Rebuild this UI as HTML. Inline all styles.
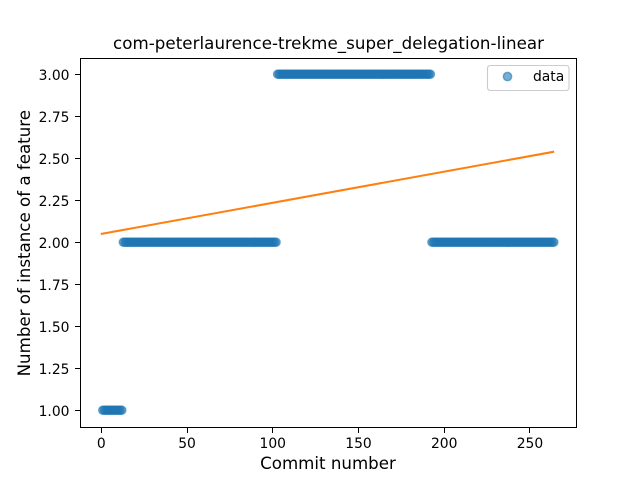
<!DOCTYPE html>
<html>
<head>
<meta charset="utf-8">
<title>com-peterlaurence-trekme_super_delegation-linear</title>
<style>
html,body{margin:0;padding:0;background:#fff;width:640px;height:480px;overflow:hidden}
svg{display:block}
text{font-family:"DejaVu Sans","Liberation Sans",sans-serif;fill:#000}
</style>
</head>
<body>
<svg id="chart" xmlns="http://www.w3.org/2000/svg" width="640" height="480" viewBox="0 0 640 480">
<rect x="0" y="0" width="640" height="480" fill="#fff"/>
<g id="points"></g>
<polyline id="trend" fill="none" stroke="#ff7f0e" stroke-width="2.08" stroke-linecap="butt"/>
<g id="xticks"></g>
<g id="yticks"></g>
<rect x="80.5" y="58.5" width="496" height="369" fill="none" stroke="#000" stroke-width="1" shape-rendering="crispEdges"/>
<text x="328.5" y="49" font-size="16.67" text-anchor="middle" textLength="431" lengthAdjust="spacing">com-peterlaurence-trekme_super_delegation-linear</text>
<text x="328" y="469" font-size="16.67" text-anchor="middle">Commit number</text>
<text x="0" y="0" font-size="16.67" text-anchor="middle" transform="translate(30 243.2) rotate(-90)">Number of instance of a feature</text>
<g>
<rect x="487.5" y="65.5" width="81.5" height="25" rx="2.8" fill="#fff" fill-opacity="0.8" stroke="#ccc" stroke-width="1.11"/>
<circle cx="507.5" cy="76.5" r="4.17" fill="#1f77b4" fill-opacity="0.6" stroke="#1f77b4" stroke-opacity="0.6" stroke-width="1.39"/>
<text x="533" y="81" font-size="13.89">data</text>
</g>
</svg>
<script>
const commitValues = [
1,1,1,1,1,1,1,1,1,1,1,1,
2,2,2,2,2,2,2,2,2,2,2,2,2,2,2,2,2,2,2,2,2,2,2,2,2,2,2,2,2,2,2,2,2,2,2,2,2,2,
2,2,2,2,2,2,2,2,2,2,2,2,2,2,2,2,2,2,2,2,2,2,2,2,2,2,2,2,2,2,2,2,2,2,2,2,2,2,
2,2,2,2,2,2,2,2,2,2,2,2,2,2,
3,3,3,3,3,3,3,3,3,3,3,3,3,3,3,3,3,3,3,3,3,3,3,3,3,3,3,3,3,3,3,3,3,3,3,3,3,3,
3,3,3,3,3,3,3,3,3,3,3,3,3,3,3,3,3,3,3,3,3,3,3,3,3,3,3,3,3,3,3,3,3,3,3,3,3,3,
3,3,3,3,3,3,3,3,3,3,3,3,3,3,
2,2,2,2,2,2,2,2,2,2,2,2,2,2,2,2,2,2,2,2,2,2,2,2,2,2,2,2,2,2,2,2,2,2,2,2,2,2,
2,2,2,2,2,2,2,2,2,2,2,2,2,2,2,2,2,2,2,2,2,2,2,2,2,2,2,2,2,2,2,2,2,2
];
const trendCommits = [0, 264.4];
const trendValues = [2.05, 2.54];
const xTickValues = [0, 50, 100, 150, 200, 250];
const yTickValues = [1.00, 1.25, 1.50, 1.75, 2.00, 2.25, 2.50, 2.75, 3.00];

const SVG_NS = 'http://www.w3.org/2000/svg';
const plotLeft = 80, plotRight = 576, plotTop = 57.6, plotBottom = 427.2;
const xMin = -12.15, xMax = 277.15, yMin = 0.9, yMax = 3.1;
function xScale(v) { return plotLeft + (v - xMin) / (xMax - xMin) * (plotRight - plotLeft); }
function yScale(v) { return plotBottom - (v - yMin) / (yMax - yMin) * (plotBottom - plotTop); }
function snap(p) { return Math.round(p) + 0.5; }

const pointsGroup = document.getElementById('points');
commitValues.forEach(function (value, i) {
  const c = document.createElementNS(SVG_NS, 'circle');
  
  
  c.setAttribute('cx', (xScale(i + 1) + 0.3).toFixed(2));
  c.setAttribute('cy', (yScale(value) - 0.2).toFixed(2));
  c.setAttribute('r', '4.17');
  c.setAttribute('fill', '#1f77b4');
  c.setAttribute('fill-opacity', '0.6');
  c.setAttribute('stroke', '#1f77b4');
  c.setAttribute('stroke-opacity', '0.6');
  c.setAttribute('stroke-width', '1.39');
  pointsGroup.appendChild(c);
});

document.getElementById('trend').setAttribute('points', trendCommits.map(function (c, i) {
  return xScale(c).toFixed(2) + ',' + yScale(trendValues[i]).toFixed(2);
}).join(' '));

const xGroup = document.getElementById('xticks');
xTickValues.forEach(function (v) {
  const x = xScale(v);
  const line = document.createElementNS(SVG_NS, 'line');
  
  
  line.setAttribute('x1', snap(x));
  line.setAttribute('x2', snap(x));
  line.setAttribute('y1', 427.5);
  line.setAttribute('y2', 433);
  line.setAttribute('stroke', '#000');
  line.setAttribute('stroke-width', '1');
  line.setAttribute('shape-rendering', 'crispEdges');
  xGroup.appendChild(line);
  const label = document.createElementNS(SVG_NS, 'text');
  
  
  label.setAttribute('x', x + 0.5);
  label.setAttribute('y', 448);
  label.setAttribute('font-size', '13.89');
  label.setAttribute('text-anchor', 'middle');
  label.textContent = String(v);
  xGroup.appendChild(label);
});

const yGroup = document.getElementById('yticks');
yTickValues.forEach(function (v) {
  const y = yScale(v);
  const line = document.createElementNS(SVG_NS, 'line');
  
  
  line.setAttribute('x1', 75);
  line.setAttribute('x2', 80.5);
  line.setAttribute('y1', snap(y));
  line.setAttribute('y2', snap(y));
  line.setAttribute('stroke', '#000');
  line.setAttribute('stroke-width', '1');
  line.setAttribute('shape-rendering', 'crispEdges');
  yGroup.appendChild(line);
  const label = document.createElementNS(SVG_NS, 'text');
  
  
  label.setAttribute('x', 69.5);
  label.setAttribute('y', y + 5.4);
  label.setAttribute('font-size', '13.89');
  label.setAttribute('text-anchor', 'end');
  label.textContent = v.toFixed(2);
  yGroup.appendChild(label);
});
</script>
</body>
</html>
